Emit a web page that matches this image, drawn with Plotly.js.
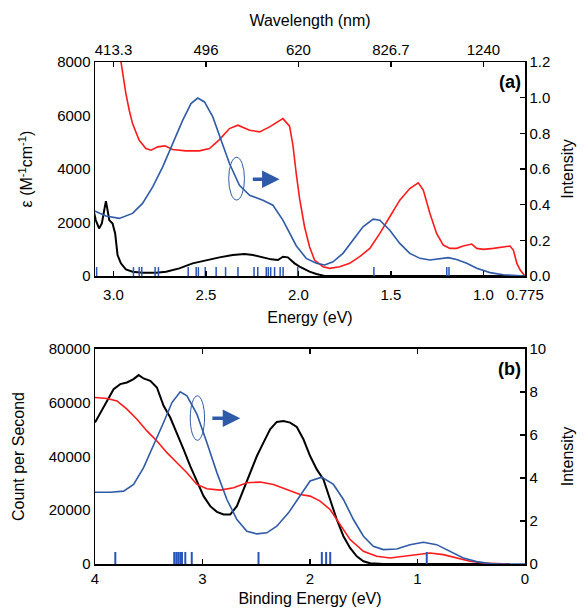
<!DOCTYPE html>
<html>
<head>
<meta charset="utf-8">
<script src="https://cdn.plot.ly/plotly-3.0.1.min.js"></script>
<style>html,body{margin:0;padding:0;background:#fff;}#chart{width:588px;height:612px;}</style>
</head>
<body>
<div id="chart"></div>
<script>
// ---------- Panel (a): absorption vs energy ----------
const aRedE = [2.975,2.960,2.951,2.933,2.915,2.897,2.861,2.825,2.797,2.761,2.722,2.680,2.608,2.536,2.481,2.427,2.373,2.328,2.264,2.210,2.156,2.084,2.048,2.030,2.012,1.994,1.967,1.940,1.913,1.867,1.831,1.777,1.723,1.669,1.614,1.560,1.506,1.452,1.398,1.352,1.325,1.289,1.253,1.217,1.181,1.145,1.109,1.063,1.036,1.000,0.946,0.892,0.856,0.838,0.819,0.801,0.775];
const aRedEps = [8700,8000,7564,6818,6196,5698,5076,4765,4703,4827,4864,4727,4678,4678,4765,5100,5511,5636,5449,5387,5573,5884,5600,4900,3831,2900,1841,1095,597,348,286,348,473,721,1033,1592,2214,2836,3272,3483,3210,2339,1592,1157,1033,1033,1120,1194,1033,995,1033,1095,1120,970,473,224,0];

const aBlackE = [3.106,3.096,3.078,3.063,3.050,3.041,3.032,3.023,3.005,2.991,2.978,2.960,2.933,2.897,2.843,2.770,2.716,2.644,2.572,2.499,2.427,2.355,2.292,2.246,2.192,2.147,2.111,2.084,2.057,2.030,2.021,1.994,1.976,1.940,1.903,1.867,1.858,1.700,1.500,1.000,0.775];
const aBlackEps = [2400,2090,1779,1965,2463,2800,2463,2090,1965,1592,784,473,249,162,124,124,162,286,473,597,697,784,821,784,697,622,597,722,697,520,473,348,286,162,75,25,0,0,0,0,0];

const aBlueE = [3.106,3.041,2.969,2.897,2.843,2.788,2.734,2.680,2.626,2.581,2.545,2.508,2.463,2.418,2.373,2.319,2.264,2.192,2.138,2.084,2.048,2.012,1.958,1.903,1.858,1.813,1.759,1.705,1.651,1.596,1.560,1.506,1.452,1.398,1.343,1.289,1.235,1.190,1.145,1.090,1.036,0.964,0.892,0.819,0.775];
const aBlueInt = [0.366,0.336,0.323,0.351,0.407,0.500,0.612,0.743,0.873,0.967,0.998,0.976,0.892,0.761,0.631,0.509,0.453,0.425,0.397,0.313,0.240,0.170,0.099,0.071,0.062,0.080,0.127,0.200,0.276,0.319,0.313,0.257,0.183,0.127,0.099,0.090,0.097,0.103,0.093,0.071,0.043,0.019,0.007,0.002,0.0];

const aStickE = [3.091,2.892,2.861,2.847,2.775,2.757,2.596,2.553,2.541,2.504,2.445,2.394,2.327,2.240,2.220,2.174,2.163,2.150,2.129,2.099,2.083,2.004,1.592,1.198,1.186];
const aStickH = 0.05;

const aEnergyTicks = [3.0,2.5,2.0,1.5,1.0,0.775];
const aEnergyLabels = ['3.0','2.5','2.0','1.5','1.0','0.775'];
const aWaveTicks = [3.0,2.5,2.0,1.5,1.0];
const aWaveLabels = ['413.3','496','620','826.7','1240'];

// ---------- Panel (b): photoelectron vs binding energy ----------
const bBlackE = [4.0,3.950,3.888,3.827,3.765,3.703,3.641,3.594,3.548,3.486,3.424,3.362,3.300,3.238,3.176,3.114,3.052,2.990,2.928,2.866,2.804,2.742,2.680,2.618,2.556,2.494,2.433,2.371,2.309,2.247,2.185,2.123,2.061,1.999,1.937,1.875,1.813,1.751,1.689,1.627,1.565,1.503,1.441,1.318,1.000,0.500,0.140];
const bBlackCps = [52620,56350,60700,65060,66930,67550,68790,70290,69040,68170,65680,58840,54490,48890,42670,36450,30850,25250,21520,19410,18410,18410,21520,27740,33960,40180,45160,50130,52870,53240,52620,51000,46400,40180,35200,31470,24010,16550,10330,5970,2860,995,250,0,0,0,0];

const bRedE = [4.0,3.888,3.796,3.703,3.610,3.517,3.424,3.331,3.238,3.145,3.052,2.959,2.835,2.711,2.587,2.463,2.340,2.216,2.092,1.999,1.906,1.813,1.751,1.689,1.627,1.503,1.380,1.256,1.132,1.008,0.884,0.760,0.636,0.512,0.388,0.202,0.140];
const bRedCps = [61950,61580,60700,57600,53870,49510,45780,41430,37690,33960,29610,27990,27490,28360,30230,30480,29610,27740,25870,25250,23390,20280,16550,12810,9080,4730,2860,2240,2860,3730,4100,3480,2240,995,373,0,0];

const bBlueE = [4.0,3.858,3.734,3.641,3.548,3.455,3.362,3.284,3.207,3.145,3.052,2.959,2.866,2.773,2.680,2.587,2.494,2.402,2.309,2.200,2.092,1.999,1.891,1.782,1.689,1.596,1.503,1.411,1.318,1.194,1.070,0.946,0.822,0.698,0.574,0.450,0.326,0.202,0.0];
const bBlueInt = [3.34,3.34,3.39,3.70,4.48,5.49,6.58,7.51,8.01,7.82,6.97,5.64,4.25,3.00,2.07,1.52,1.40,1.45,1.76,2.38,3.15,3.86,4.04,3.70,3.00,2.07,1.29,0.82,0.67,0.70,0.90,1.01,0.90,0.59,0.28,0.11,0.02,0.0,0.0];

const bStickE = [3.811,3.263,3.244,3.226,3.207,3.191,3.160,3.100,2.479,1.890,1.850,1.812,0.914];
const bStickH = 0.56;

// ---------- helpers ----------
function stickXY(xs, h) {
  const x = [], y = [];
  xs.forEach(e => { x.push(e, e, null); y.push(0, h, null); });
  return {x, y};
}
const RED = '#ff1a1a', BLUE = '#2f5aa8', STICK = '#2a55b8', BLACK = '#000000';
const FONT = 'Liberation Sans, Arial, sans-serif';

const aS = stickXY(aStickE, aStickH);
const bS = stickXY(bStickE, bStickH);

const traces = [
  {x: aBlackE, y: aBlackEps, xaxis: 'x', yaxis: 'y', mode: 'lines', line: {color: BLACK, width: 2}},
  {x: aRedE, y: aRedEps, xaxis: 'x', yaxis: 'y', mode: 'lines', line: {color: RED, width: 1.6}},
  {x: aBlueE, y: aBlueInt, xaxis: 'x', yaxis: 'y2', mode: 'lines', line: {color: BLUE, width: 1.6}},
  {x: aS.x, y: aS.y, xaxis: 'x', yaxis: 'y2', mode: 'lines', line: {color: STICK, width: 1.5}, connectgaps: false},
  {x: [aWaveTicks[0]], y: [0], xaxis: 'x2', yaxis: 'y', mode: 'markers', marker: {opacity: 0}},
  {x: bBlackE, y: bBlackCps, xaxis: 'x3', yaxis: 'y3', mode: 'lines', line: {color: BLACK, width: 2}},
  {x: bRedE, y: bRedCps, xaxis: 'x3', yaxis: 'y3', mode: 'lines', line: {color: RED, width: 1.6}},
  {x: bBlueE, y: bBlueInt, xaxis: 'x3', yaxis: 'y4', mode: 'lines', line: {color: BLUE, width: 1.6}},
  {x: bS.x, y: bS.y, xaxis: 'x3', yaxis: 'y4', mode: 'lines', line: {color: STICK, width: 2}, connectgaps: false}
];

const axBase = {
  showgrid: false, zeroline: false, showline: true, linecolor: '#000', linewidth: 1.5,
  tickfont: {family: FONT, size: 15, color: '#000'}, tickcolor: '#000', ticklen: 5, tickwidth: 1.5
};
const titleFont = {family: FONT, size: 16, color: '#000'};

const layout = {
  width: 588, height: 612,
  margin: {l: 95, r: 63, t: 62, b: 48},
  paper_bgcolor: '#fff', plot_bgcolor: '#fff',
  showlegend: false,
  font: {family: FONT, color: '#000'},
  xaxis: Object.assign({}, axBase, {
    domain: [0, 1], anchor: 'y', range: [3.1, 0.775],
    tickmode: 'array', tickvals: aEnergyTicks, ticktext: aEnergyLabels, ticks: 'inside', ticklabelstandoff: 4,
    title: {text: 'Energy (eV)', font: titleFont, standoff: 10}
  }),
  xaxis2: Object.assign({}, axBase, {
    overlaying: 'x', side: 'top', anchor: 'y', range: [3.1, 0.775],
    tickmode: 'array', tickvals: aWaveTicks, ticktext: aWaveLabels, ticks: 'inside',
    title: {text: 'Wavelength (nm)', font: titleFont, standoff: 10}
  }),
  yaxis: Object.assign({}, axBase, {
    domain: [0.5737, 1], anchor: 'x', range: [0, 8000], tickmode: 'linear', tick0: 0, dtick: 2000, ticks: '',
    tickformat: 'd',
    title: {text: 'ε (M<sup>-1</sup>cm<sup>-1</sup>)', font: titleFont, standoff: 20}
  }),
  yaxis2: Object.assign({}, axBase, {
    overlaying: 'y', side: 'right', anchor: 'x', range: [0, 1.2], tickmode: 'linear', tick0: 0, dtick: 0.2,
    tickformat: '.1f', ticks: 'inside',
    title: {text: 'Intensity', font: titleFont, standoff: 12}
  }),
  xaxis3: Object.assign({}, axBase, {
    domain: [0, 1], anchor: 'y3', range: [4, 0], tickmode: 'linear', tick0: 0, dtick: 1, ticks: 'inside', mirror: 'ticks',
    title: {text: 'Binding Energy (eV)', font: titleFont, standoff: 7}
  }),
  yaxis3: Object.assign({}, axBase, {
    domain: [0, 0.4283], anchor: 'x3', range: [0, 80000], tickmode: 'linear', tick0: 0, dtick: 20000, ticks: '',
    tickformat: 'd', separatethousands: false,
    title: {text: 'Count per Second', font: titleFont, standoff: 20}
  }),
  yaxis4: Object.assign({}, axBase, {
    overlaying: 'y3', side: 'right', anchor: 'x3', range: [0, 10], tickmode: 'linear', tick0: 0, dtick: 2, ticks: 'inside',
    title: {text: 'Intensity', font: titleFont, standoff: 16}
  }),
  shapes: [
    {type: 'circle', xref: 'x', yref: 'y', x0: 2.377, x1: 2.292, y0: 2841, y1: 4437, line: {color: BLUE, width: 1}},
    {type: 'circle', xref: 'x3', yref: 'y3', x0: 3.114, x1: 2.981, y0: 46030, y1: 62570, line: {color: BLUE, width: 1}}
  ],
  annotations: [
    {xref: 'x', yref: 'y', axref: 'x', ayref: 'y', x: 2.102, y: 3615, ax: 2.255, ay: 3615, text: '',
     showarrow: true, arrowhead: 2, arrowsize: 1, arrowwidth: 3.5, arrowcolor: BLUE, standoff: 0, startstandoff: 0},
    {xref: 'x3', yref: 'y3', axref: 'x3', ayref: 'y3', x: 2.649, y: 54240, ax: 2.922, ay: 54240, text: '',
     showarrow: true, arrowhead: 2, arrowsize: 1, arrowwidth: 3.5, arrowcolor: BLUE, standoff: 0, startstandoff: 0},
    {xref: 'paper', yref: 'paper', x: 0.995, y: 0.985, xanchor: 'right', yanchor: 'top', showarrow: false,
     text: '<b>(a)</b>', font: {family: FONT, size: 18, color: '#000'}},
    {xref: 'paper', yref: 'paper', x: 0.995, y: 0.4283 - 0.015, xanchor: 'right', yanchor: 'top', showarrow: false,
     text: '<b>(b)</b>', font: {family: FONT, size: 18, color: '#000'}}
  ]
};

Plotly.newPlot('chart', traces, layout, {staticPlot: true, displayModeBar: false});
</script>
</body>
</html>
